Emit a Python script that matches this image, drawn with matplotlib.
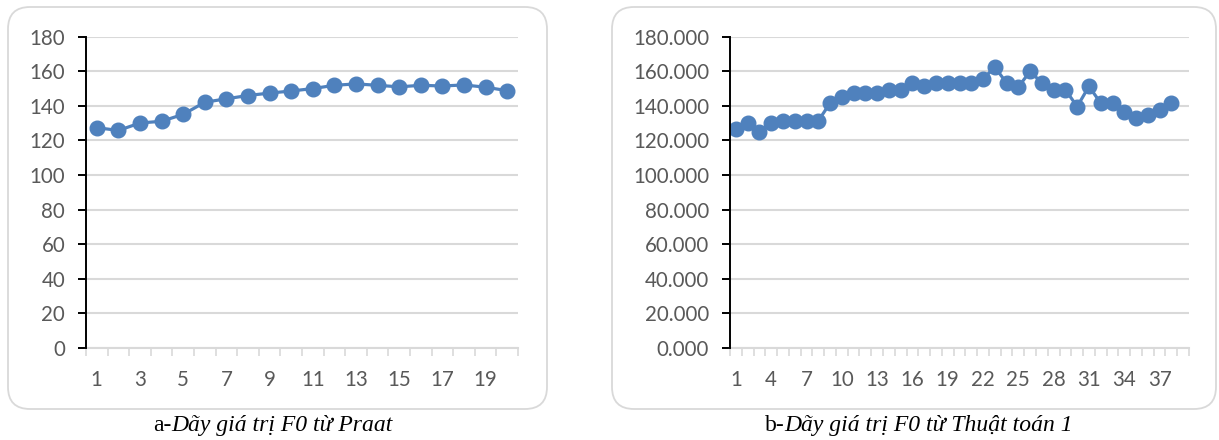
import matplotlib
matplotlib.use("Agg")
import matplotlib.pyplot as plt
from matplotlib.patches import FancyBboxPatch
from matplotlib.offsetbox import TextArea, HPacker, AnnotationBbox
from matplotlib.ticker import FixedLocator, FuncFormatter
import numpy as np

# F0 sequences (Hz)
f0_praat = [127.4, 125.8, 130.1, 131.1, 135.1, 142.1, 144.1, 146.0, 147.4, 148.6,
            150.0, 151.9, 152.7, 151.9, 151.0, 151.9, 151.5, 152.1, 150.8, 148.8]
f0_algo1 = [126.6, 130.3, 125.0, 129.9, 131.3, 131.3, 131.3, 131.3, 141.6, 145.2,
            147.2, 147.2, 147.2, 149.1, 149.1, 153.2, 151.7, 153.2, 153.2, 153.2,
            153.2, 155.5, 162.5, 153.2, 150.9, 160.0, 153.2, 149.3, 149.3, 139.6,
            151.3, 141.6, 141.6, 136.3, 132.8, 134.8, 137.7, 141.9]
n_slots_praat = 20
n_slots_algo1 = 39
x_labels_praat = list(range(1, 20, 2))
x_labels_algo1 = list(range(1, 38, 3))
y_ticks = list(range(0, 181, 20))

caption_a = ("a-", "Dãy giá trị F0 từ Praat")
caption_b = ("b-", "Dãy giá trị F0 từ Thuật toán 1")

BLUE = "#4F81BD"
GRID = "#D9D9D9"
LABEL = "#595959"
W, H = 1219, 440

plt.rcParams["font.family"] = ["Lato", "DejaVu Sans"]
fig = plt.figure(figsize=(W / 100, H / 100), dpi=100)

# rounded frames around each chart, kept behind the axes
for x0, x1 in [(8, 547), (612, 1216)]:
    box = FancyBboxPatch((x0 / W, 1 - 409 / H), (x1 - x0) / W, (409 - 7) / H,
                         boxstyle=f"round,pad=0,rounding_size={22 / W}",
                         transform=fig.transFigure, facecolor="white",
                         edgecolor=GRID, linewidth=1.3, mutation_aspect=W / H,
                         zorder=-5)
    fig.patches.append(box)


def draw_panel(rect, values, n_slots, labels, fmt):
    ax = fig.add_axes(rect)
    ax.set_zorder(2)
    ax.set_facecolor("none")
    x = np.arange(1, len(values) + 1)
    ax.plot(x, values, color=BLUE, lw=2.3, marker="o", ms=10.5,
            markeredgecolor=BLUE, zorder=3)
    ax.set_xlim(0.5, n_slots + 0.5)
    ax.set_ylim(0, 180)
    ax.set_yticks(y_ticks)
    ax.yaxis.set_major_formatter(FuncFormatter(fmt))
    ax.grid(axis="y", color=GRID, lw=1.5)
    ax.set_axisbelow(True)
    for s in ["top", "right"]:
        ax.spines[s].set_visible(False)
    ax.spines["left"].set_color("black")
    ax.spines["left"].set_linewidth(1.4)
    ax.spines["left"].set_zorder(4)
    ax.spines["bottom"].set_color(GRID)
    ax.spines["bottom"].set_linewidth(1.5)
    ax.tick_params(axis="y", length=6, width=1.4, color="black",
                   labelsize=14.8, labelcolor=LABEL, pad=9)
    # category boundaries as minor ticks, labels on major ticks
    ax.xaxis.set_minor_locator(FixedLocator(np.arange(0.5, n_slots + 1, 1)))
    ax.set_xticks(labels)
    ax.set_xticklabels([str(v) for v in labels])
    ax.tick_params(axis="x", which="minor", length=6, width=1.2, color=GRID)
    ax.tick_params(axis="x", which="major", length=0, labelsize=14.8,
                   labelcolor=LABEL, pad=16)
    return ax


draw_panel([86 / W, 1 - 348 / H, 432 / W, (348 - 36.7) / H], f0_praat,
           n_slots_praat, x_labels_praat, lambda v, p: f"{v:.0f}")
draw_panel([730 / W, 1 - 348 / H, 459 / W, (348 - 36.7) / H], f0_algo1,
           n_slots_algo1, x_labels_algo1, lambda v, p: f"{v:.3f}")


def caption(xc, parts):
    serif = ["Liberation Serif", "DejaVu Serif"]
    a = TextArea(parts[0], textprops=dict(family=serif, size=17))
    b = TextArea(parts[1], textprops=dict(family=serif, size=17, style="italic"))
    pack = HPacker(children=[a, b], pad=0, sep=0, align="baseline")
    ab = AnnotationBbox(pack, (xc / W, 1 - 425 / H), xycoords="figure fraction",
                        frameon=False, box_alignment=(0.5, 0.5))
    fig.add_artist(ab)


caption(273, caption_a)
caption(919, caption_b)

fig.savefig("out.png", dpi=100)
